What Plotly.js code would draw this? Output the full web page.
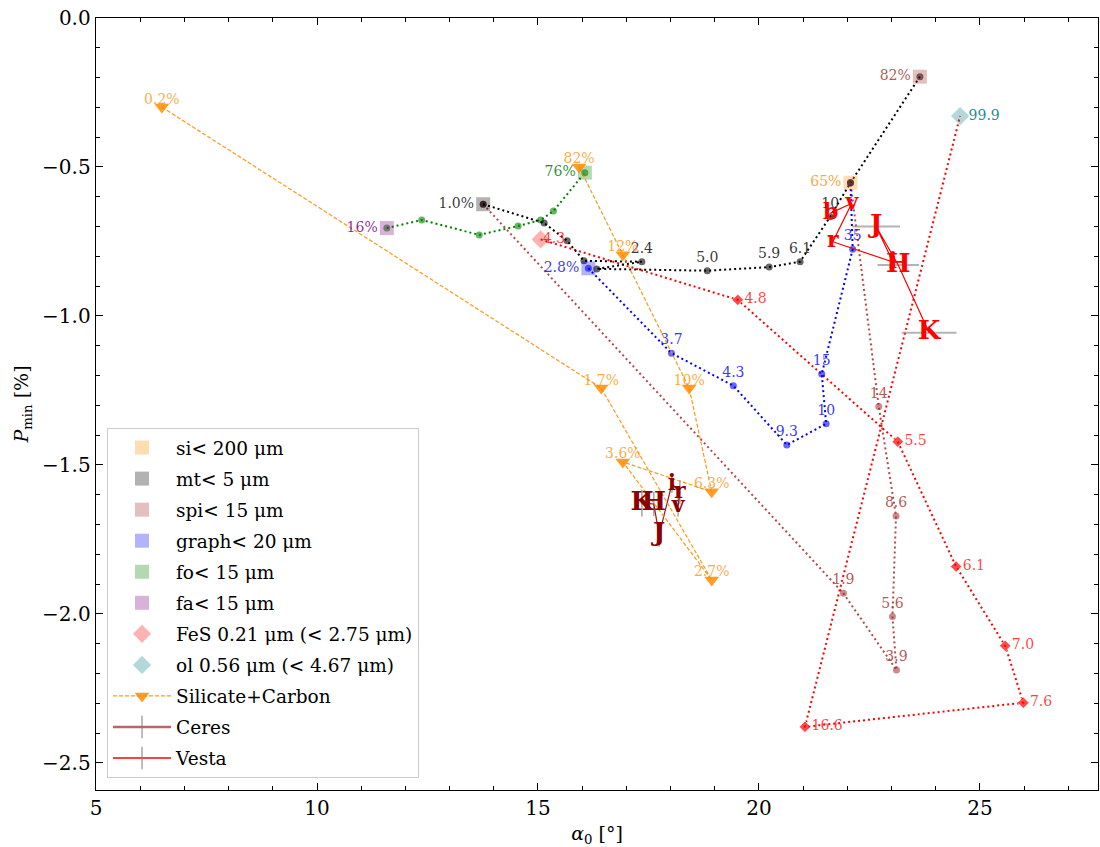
<!DOCTYPE html>
<html><head><meta charset="utf-8">
<script src="https://cdn.plot.ly/plotly-3.0.1.min.js"></script>
<style>html,body{margin:0;padding:0;background:#fff}#plot{width:1100px;height:847px}</style>
</head><body><div id="plot"></div>
<script>
const FONT = 'DejaVu Serif, Liberation Serif, serif';

// ---- end-member samples (squares) ----
const memberNames  = ['si< 200 μm','mt< 5 μm','spi< 15 μm','graph< 20 μm','fo< 15 μm','fa< 15 μm'];
const memberX      = [22.07, 13.76, 23.64, 16.14, 16.06, 11.58];
const memberY      = [-0.553, -0.625, -0.197, -0.840, -0.519, -0.705];
const memberLabels = ['65%','1.0%','82%','2.8%','76%','16%'];

// ---- grain samples (diamonds) ----
const grainNames  = ['FeS 0.21 μm (< 2.75 μm)','ol 0.56 μm (< 4.67 μm)'];
const grainX      = [15.06, 24.55];
const grainY      = [-0.743, -0.329];
const grainLabels = ['4.3','99.9'];

// ---- mixture tracks ----
const mtX      = [13.76, 15.14, 15.66, 16.04, 17.35, 16.33, 18.83, 20.23, 20.93, 21.61, 22.07, 23.64];
const mtY      = [-0.625, -0.688, -0.748, -0.815, -0.818, -0.842, -0.848, -0.836, -0.818, -0.667, -0.553, -0.197];
const mtLabels = ['', '', '', '', '2.4', '', '5.0', '5.9', '6.1', '10', '', ''];

const graphX      = [16.14, 18.02, 19.42, 20.63, 21.52, 21.42, 22.12, 22.07];
const graphY      = [-0.840, -1.125, -1.234, -1.433, -1.362, -1.195, -0.776, -0.553];
const graphLabels = ['', '3.7', '4.3', '9.3', '10', '15', '35', ''];

const spiX      = [13.76, 21.91, 23.11, 23.02, 23.10, 22.71, 22.07];
const spiY      = [-0.625, -1.931, -2.188, -2.009, -1.671, -1.304, -0.553];
const spiLabels = ['', '1.9', '3.9', '5.6', '8.6', '14', ''];

const fesX      = [15.06, 19.52, 23.14, 24.46, 25.57, 25.98, 21.04, 24.55];
const fesY      = [-0.743, -0.946, -1.422, -1.841, -2.107, -2.298, -2.379, -0.329];
const fesLabels = ['', '4.8', '5.5', '6.1', '7.0', '7.6', '16.6', ''];

const foX = [11.58, 12.37, 13.67, 14.55, 15.06, 15.35, 16.06];
const foY = [-0.705, -0.678, -0.728, -0.698, -0.678, -0.648, -0.519];

// ---- Silicate+Carbon ----
const scX      = [6.49, 16.43, 18.93, 16.92, 18.93, 18.42, 16.92, 15.93];
const scY      = [-0.299, -1.242, -1.886, -1.490, -1.590, -1.242, -0.795, -0.500];
const scLabels = ['0.2%','1.7%','2.7%','3.6%','6.3%','10%','12%','82%'];

// ---- Ceres ----
const ceresBands = ['v','r','i','J','H','K'];
const ceresX     = [18.17, 18.21, 18.03, 17.74, 17.62, 17.35];
const ceresY     = [-1.638, -1.591, -1.564, -1.735, -1.631, -1.628];
const ceresErrY  = [0.035, 0.04, 0.03, 0.04, 0.04, 0.045];

// ---- Vesta ----
const vestaBands = ['b','v','r','i','J','H','K'];
const vestaX     = [21.62, 22.10, 21.67, 23.03, 22.65, 23.15, 23.85];
const vestaY     = [-0.655, -0.622, -0.751, -0.819, -0.700, -0.829, -1.056];
const vestaErrX  = [0, 0, 0, 0, 0.54, 0.47, 0.62];

// ---------- styles ----------
const memberFill = ['rgba(255,140,0,0.3)','rgba(0,0,0,0.3)','rgba(165,42,42,0.3)','rgba(0,0,255,0.3)','rgba(0,128,0,0.3)','rgba(128,0,128,0.3)'];
const memberText = ['rgba(255,140,0,0.8)','rgba(0,0,0,0.8)','rgba(165,42,42,0.8)','rgba(0,0,255,0.8)','rgba(0,128,0,0.85)','rgba(128,0,128,0.85)'];
const grainFill = ['rgba(255,0,0,0.3)','rgba(0,128,128,0.3)'];
const grainText = ['rgba(255,0,0,0.75)','rgba(0,128,128,0.9)'];
const DOT = '2px,3px';

const traces = [];

function track(x, y, labels, lineColor, dotColor, labelColor, symbol, dotSize, textpos, hideEnds) {
  const n = x.length;
  return {
    type: 'scatter', mode: 'lines+markers+text', x: x, y: y, text: labels,
    textposition: textpos,
    textfont: {family: FONT, size: 14, color: labelColor},
    line: {color: lineColor, width: 2, dash: DOT},
    marker: {color: dotColor, size: hideEnds ? x.map((v, i) => (i === 0 || i === n - 1) ? 0 : dotSize) : dotSize, symbol: symbol},
    showlegend: false, hoverinfo: 'skip', cliponaxis: false
  };
}

traces.push(track(foX, foY, foX.map(() => ' '), 'green', 'rgba(0,128,0,0.6)', 'green', 'circle', 7, 'top center', false));
traces.push(track(spiX, spiY, spiLabels, 'rgba(165,42,42,0.85)', 'rgba(165,42,42,0.55)', 'rgba(165,42,42,0.8)', 'circle', 7, 'top center', false));
traces.push(track(fesX, fesY, fesLabels, 'red', 'red', 'rgba(255,0,0,0.75)', 'diamond', 9, 'middle right', true));
traces.push(track(graphX, graphY, graphLabels, 'blue', 'rgba(0,0,255,0.6)', 'rgba(0,0,255,0.8)', 'circle', 7, 'top center', false));
traces.push(track(mtX, mtY, mtLabels, 'black', 'rgba(0,0,0,0.6)', 'rgba(0,0,0,0.8)', 'circle', 7, 'top center', false));

// Ceres & Vesta lines with error bars
traces.push({
  type: 'scatter', mode: 'lines', x: ceresX, y: ceresY, showlegend: false, hoverinfo: 'skip',
  line: {color: 'rgba(139,0,0,0.9)', width: 1.2},
  error_y: {type: 'data', array: ceresErrY, color: 'rgba(128,128,128,0.7)', thickness: 1.5, width: 0}
});
traces.push({
  type: 'scatter', mode: 'lines', x: vestaX, y: vestaY, showlegend: false, hoverinfo: 'skip',
  line: {color: 'red', width: 1.2},
  error_x: {type: 'data', array: vestaErrX, color: 'rgba(128,128,128,0.6)', thickness: 2, width: 0}
});

// Legend traces: end-members
memberNames.forEach((nm, i) => {
  traces.push({
    type: 'scatter', mode: 'markers', x: [memberX[i]], y: [memberY[i]], name: nm,
    legendgroup: 'm' + i,
    marker: {symbol: 'square', size: 14, color: memberFill[i]}, hoverinfo: 'skip'
  });
});
grainNames.forEach((nm, i) => {
  traces.push({
    type: 'scatter', mode: 'markers', x: [grainX[i]], y: [grainY[i]], name: nm,
    legendgroup: 'g' + i,
    marker: {symbol: 'diamond', size: 14, color: grainFill[i]}, hoverinfo: 'skip'
  });
});
traces.push({
  type: 'scatter', mode: 'lines+markers', x: scX, y: scY, name: 'Silicate+Carbon', legendgroup: 'sc',
  line: {color: 'rgba(255,140,0,0.9)', width: 1.2, dash: '4px,2px'},
  marker: {symbol: 'triangle-down', size: 13, color: 'rgba(255,140,0,0.85)'}, hoverinfo: 'skip'
});
// legend entries for Ceres / Vesta
traces.push({
  type: 'scatter', mode: 'lines+markers', x: [null], y: [null], name: 'Ceres', legendgroup: 'ce',
  line: {color: 'rgba(139,0,0,0.6)', width: 2.5},
  marker: {symbol: 'line-ns-open', size: 16, color: 'rgba(128,128,128,0.8)', line: {width: 1.3}}
});
traces.push({
  type: 'scatter', mode: 'lines+markers', x: [null], y: [null], name: 'Vesta', legendgroup: 've',
  line: {color: 'red', width: 1.5},
  marker: {symbol: 'line-ns-open', size: 16, color: 'rgba(128,128,128,0.8)', line: {width: 1.3}}
});

// labels for end-members and grains
traces.push({
  type: 'scatter', mode: 'markers+text', x: memberX, y: memberY, text: memberLabels,
  textposition: 'middle left', textfont: {family: FONT, size: 14, color: memberText},
  marker: {size: 13, opacity: 0}, showlegend: false, hoverinfo: 'skip'
});
traces.push({
  type: 'scatter', mode: 'markers+text', x: grainX, y: grainY, text: grainLabels,
  textposition: 'middle right', textfont: {family: FONT, size: 14, color: grainText},
  marker: {size: [2, 12], opacity: 0}, showlegend: false, hoverinfo: 'skip'
});
traces.push({
  type: 'scatter', mode: 'text', x: scX, y: scY, text: scLabels,
  textposition: 'top center', textfont: {family: FONT, size: 14, color: 'rgba(255,140,0,0.75)'},
  showlegend: false, hoverinfo: 'skip'
});

// band letters
function bandSizes(arr) { return arr.map(b => (b === b.toUpperCase()) ? 26 : 22); }
traces.push({
  type: 'scatter', mode: 'text', x: ceresX, y: ceresY, text: ceresBands, textposition: 'middle center',
  textfont: {family: FONT, size: bandSizes(ceresBands), color: '#8b0000', weight: 'bold'},
  showlegend: false, hoverinfo: 'skip'
});
traces.push({
  type: 'scatter', mode: 'text', x: vestaX, y: vestaY, text: vestaBands, textposition: 'middle center',
  textfont: {family: FONT, size: bandSizes(vestaBands), color: 'red', weight: 'bold'},
  showlegend: false, hoverinfo: 'skip'
});

const axisCommon = {
  showline: true, linecolor: 'black', linewidth: 1.3, mirror: 'allticks',
  ticks: 'inside', ticklen: 7, tickwidth: 1, tickcolor: 'black',
  showgrid: false, zeroline: false,
  tickfont: {family: FONT, size: 20, color: 'black'}
};

const layout = {
  width: 1100, height: 847,
  margin: {l: 96, r: 2, t: 18, b: 57},
  paper_bgcolor: 'white', plot_bgcolor: 'white',
  xaxis: Object.assign({}, axisCommon, {
    range: [5, 27.67], tick0: 5, dtick: 5,
    minor: {dtick: 1, ticks: 'inside', ticklen: 4, tickcolor: 'black'},
    title: {text: '<i>α</i><sub>0</sub> [°]', font: {family: FONT, size: 19, color: 'black'}, standoff: 8}
  }),
  yaxis: Object.assign({}, axisCommon, {
    range: [-2.591, 0], tick0: 0, dtick: 0.5, tickformat: '.1f',
    minor: {dtick: 0.1, ticks: 'inside', ticklen: 4, tickcolor: 'black'},
    title: {text: '<i>P</i><sub>min</sub> [%]', font: {family: FONT, size: 19, color: 'black'}, standoff: 8}
  }),
  legend: {
    x: 0.011, y: 0.0155, xanchor: 'left', yanchor: 'bottom',
    bgcolor: 'rgba(255,255,255,0.85)', bordercolor: '#cccccc', borderwidth: 1,
    font: {family: FONT, size: 18.5, color: 'black'},
    itemwidth: 58, traceorder: 'grouped', tracegroupgap: 4
  },
  showlegend: true
};

Plotly.newPlot('plot', traces, layout, {displayModeBar: false, staticPlot: true});
</script>
</body></html>
